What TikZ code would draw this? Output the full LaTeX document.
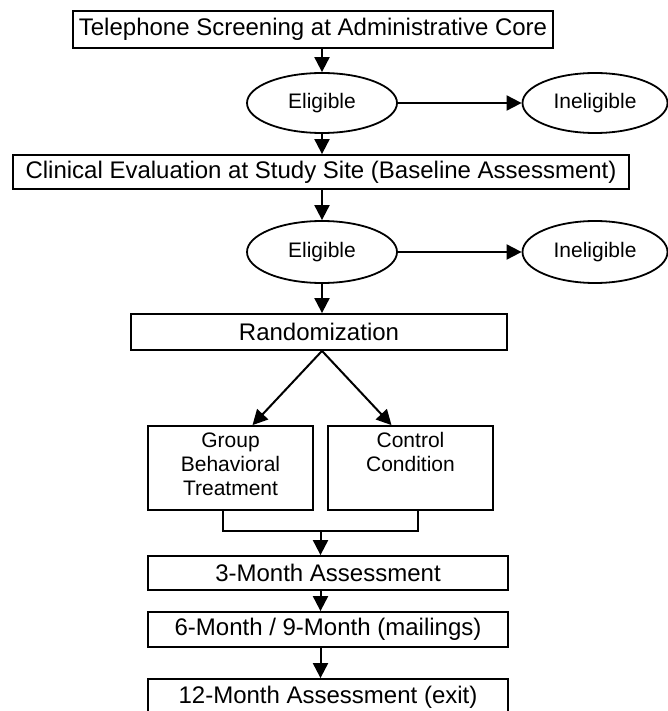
\documentclass[tikz,border=0pt]{standalone}
\usepackage{fontspec}
\setmainfont{Liberation Sans}
\usetikzlibrary{shapes.geometric, arrows.meta, positioning, calc}

\begin{document}
\begin{tikzpicture}[x=0.5pt, y=-0.5pt,
  box/.style={rectangle, draw, line width=0.9pt, inner sep=0pt,
              font=\fontsize{12}{14}\selectfont},
  oval/.style={ellipse, draw, line width=0.9pt, inner sep=0pt,
               minimum width=75pt, minimum height=30pt, font=\fontsize{10.5}{12}\selectfont},
  arm/.style={rectangle, draw, line width=0.9pt, inner sep=0pt, align=center,
              text width=82.5pt, text height=10.5pt, text depth=31.5pt,
              font=\fontsize{10.5}{12}\selectfont},
  arr/.style={-{Triangle[length=7.5pt, width=7.5pt]}, line width=1pt}
]
  \useasboundingbox (0,0) rectangle (668,711);

  \node[box, minimum width=240pt, minimum height=18.5pt] (phone) at (313,29.5) {Telephone Screening at Administrative Core};
  \node[oval] (elig1) at (322,103) {Eligible};
  \node[oval, minimum width=72.5pt] (inel1) at (595,103) {Ineligible};

  \node[box, minimum width=308pt, minimum height=17pt] (clin) at (321,172) {Clinical Evaluation at Study Site (Baseline Assessment)};
  \node[oval, minimum height=31pt] (elig2) at (322,252) {Eligible};
  \node[oval, minimum width=72.5pt, minimum height=31pt] (inel2) at (595,252) {Ineligible};

  \node[box, minimum width=188pt, minimum height=18pt] (rand) at (319,332) {Randomization};
  \node[arm] (group) at (230.5,468) {Group\\Behavioral\\Treatment};
  \node[arm] (ctrl) at (410.5,468) {Control\\Condition};

  \node[box, minimum width=180pt, minimum height=17pt] (m3) at (328,573) {3-Month Assessment};
  \node[box, minimum width=180pt, minimum height=17.5pt] (m6) at (328,629.5) {6-Month / 9-Month (mailings)};
  \node[box, minimum width=180pt, minimum height=18pt] (m12) at (328,697) {12-Month Assessment (exit)};

  % screening stages
  \draw[arr] (phone.south -| elig1.north) -- (elig1.north);
  \draw[arr] (elig1) -- (inel1);
  \draw[arr] (elig1.south) -- (elig1.south |- clin.north);
  \draw[arr] (clin.south -| elig2.north) -- (elig2.north);
  \draw[arr] (elig2) -- (inel2);
  \draw[arr] (elig2.south) -- (elig2.south |- rand.north);

  % randomization split
  \draw[arr] (rand.south -| elig2.south) -- ([xshift=11pt]group.north);
  \draw[arr] (rand.south -| elig2.south) -- ([xshift=-9.5pt]ctrl.north);

  % merge and follow-up
  \draw[line width=0.9pt] ([xshift=-3.75pt]group.south) -- ++(0,20) -| ([xshift=3.75pt]ctrl.south);
  \coordinate (merge) at ($(group.south)!0.5!(ctrl.south)+(0,20)$);
  \draw[arr] (merge) -- (merge |- m3.north);
  \draw[arr] (m3.south -| merge) -- (m6.north -| merge);
  \draw[arr] (m6.south -| merge) -- (m12.north -| merge);
\end{tikzpicture}
\end{document}
